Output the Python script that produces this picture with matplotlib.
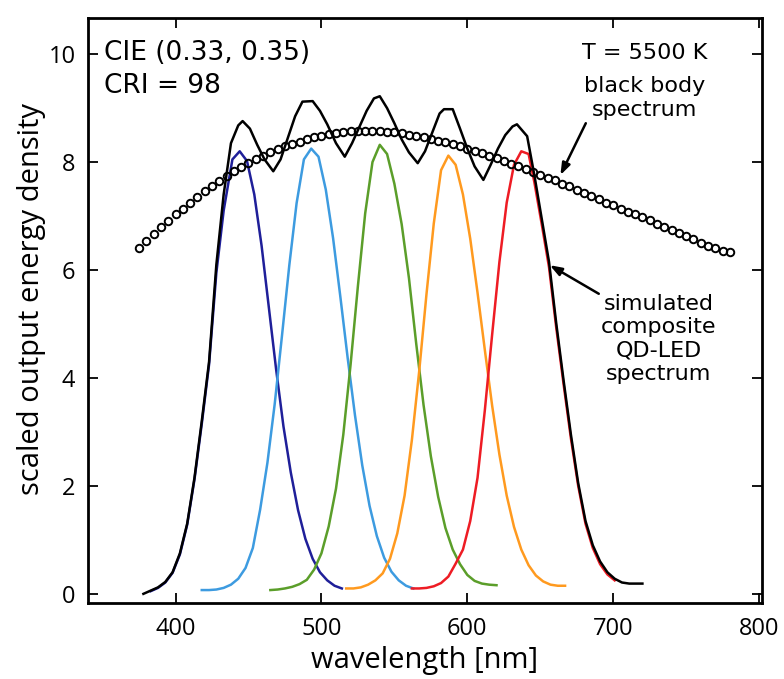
import numpy as np
import matplotlib
matplotlib.use("Agg")
import matplotlib.pyplot as plt

# black body, T = 5500 K (open circles)
bb_wl = np.arange(375, 781, 5)
bb_val = [6.40, 6.53, 6.66, 6.79, 6.91, 7.03, 7.14, 7.25, 7.36, 7.46,
          7.56, 7.65, 7.74, 7.83, 7.91, 7.98, 8.05, 8.12, 8.18, 8.24,
          8.29, 8.34, 8.38, 8.42, 8.46, 8.49, 8.52, 8.54, 8.56, 8.57,
          8.58, 8.58, 8.58, 8.57, 8.56, 8.55, 8.53, 8.51, 8.49, 8.46,
          8.43, 8.40, 8.37, 8.33, 8.29, 8.25, 8.21, 8.16, 8.12, 8.07,
          8.02, 7.97, 7.92, 7.87, 7.82, 7.77, 7.71, 7.66, 7.60, 7.55,
          7.49, 7.43, 7.37, 7.31, 7.25, 7.20, 7.14, 7.08, 7.03, 6.98,
          6.92, 6.86, 6.80, 6.75, 6.69, 6.63, 6.57, 6.51, 6.45, 6.40,
          6.36, 6.33]

# single QD-LED emission bands
blue_wl = [383, 388, 393, 398, 403, 408, 413, 418, 423, 428, 433, 439, 444,
           449, 454, 459, 464, 469, 474, 479, 484, 489, 494, 499, 504, 509, 514]
blue_val = [0.05, 0.11, 0.21, 0.39, 0.73, 1.28, 2.12, 3.15, 4.25, 5.95, 7.10,
            8.05, 8.20, 8.02, 7.40, 6.45, 5.30, 4.15, 3.10, 2.25, 1.55, 1.02,
            0.65, 0.40, 0.25, 0.15, 0.10]

cyan_wl = np.arange(418, 564, 5)
cyan_val = [0.07, 0.07, 0.08, 0.11, 0.17, 0.28, 0.48, 0.85, 1.56, 2.43,
            3.52, 4.79, 6.09, 7.24, 8.05, 8.25, 8.10, 7.49, 6.59, 5.50,
            4.37, 3.31, 2.38, 1.63, 1.07, 0.67, 0.41, 0.25, 0.15, 0.10]

green_wl = np.arange(465, 621, 5)
green_val = [0.07, 0.08, 0.10, 0.13, 0.18, 0.26, 0.45, 0.75, 1.25, 1.95,
             2.95, 4.25, 5.70, 7.05, 8.00, 8.32, 8.15, 7.60, 6.85, 5.85,
             4.63, 3.50, 2.55, 1.80, 1.22, 0.82, 0.55, 0.35, 0.24, 0.19,
             0.17, 0.16]

orange_wl = np.arange(517, 668, 5)
orange_val = [0.10, 0.10, 0.12, 0.17, 0.25, 0.38, 0.65, 1.12, 1.82, 2.85,
              4.12, 5.55, 6.86, 7.85, 8.12, 7.95, 7.40, 6.58, 5.58, 4.52,
              3.49, 2.58, 1.82, 1.24, 0.82, 0.53, 0.34, 0.23, 0.17, 0.15,
              0.15]

red_wl = [562, 567, 572, 577, 582, 587, 592, 597, 602, 607, 612, 617, 622,
          627, 632, 637, 642, 646, 651, 656, 661, 666, 671, 676, 681, 686,
          691, 696, 701]
red_val = [0.10, 0.10, 0.11, 0.14, 0.20, 0.32, 0.56, 0.82, 1.35, 2.15, 3.40,
           4.80, 6.15, 7.25, 7.95, 8.20, 8.15, 7.62, 6.85, 6.05, 4.92, 3.88,
           2.88, 2.00, 1.30, 0.85, 0.55, 0.36, 0.25]

# composite spectrum
comp_wl = [378, 383, 388, 393, 398, 403, 408, 413, 418, 423, 428, 433, 438,
           443, 446, 451, 456, 461, 467, 472, 477, 482, 487, 494, 499, 504,
           510, 516, 521, 526, 531, 536, 540, 545, 550, 555, 560, 566, 571,
           576, 581, 584, 590, 595, 600, 605, 611, 616, 621, 626, 631, 634,
           641, 646, 651, 656, 661, 666, 671, 676, 681, 686, 691, 696, 701,
           706, 711, 716, 720]
comp_val = [0.00, 0.06, 0.12, 0.22, 0.40, 0.75, 1.30, 2.15, 3.20, 4.30, 6.10,
            7.40, 8.35, 8.68, 8.76, 8.62, 8.32, 8.05, 7.83, 8.05, 8.45, 8.85,
            9.12, 9.13, 8.95, 8.70, 8.35, 8.10, 8.35, 8.65, 8.95, 9.18, 9.22,
            9.00, 8.72, 8.42, 8.18, 7.98, 8.20, 8.55, 8.90, 8.98, 8.98, 8.62,
            8.25, 7.92, 7.67, 7.95, 8.25, 8.50, 8.66, 8.70, 8.48, 7.75, 6.95,
            6.15, 5.00, 3.95, 2.95, 2.05, 1.35, 0.90, 0.60, 0.40, 0.28, 0.21,
            0.19, 0.19, 0.19]

band_colors = ["#1f1f99", "#3d9be0", "#5b9e2a", "#ff9a1f", "#ee1c24"]

fig = plt.figure(figsize=(7.84, 6.79), dpi=100)
ax = fig.add_axes([0.1122, 0.1119, 0.8598, 0.8616])

bands = [(blue_wl, blue_val), (cyan_wl, cyan_val), (green_wl, green_val),
         (orange_wl, orange_val), (red_wl, red_val)]
for (wl, val), c in zip(bands, band_colors):
    ax.plot(wl, val, color=c, lw=1.8)

ax.plot(comp_wl, comp_val, color="black", lw=1.8)
ax.plot(bb_wl, bb_val, "o", mfc="none", mec="black", ms=5.4, mew=1.4)

ax.set_xlim(340, 802)
ax.set_ylim(-0.17, 10.67)
ax.set_xticks([400, 500, 600, 700, 800])
ax.set_yticks([0, 2, 4, 6, 8, 10])

tick_font = {"family": "Open Sans", "size": 17}
ax.set_xticklabels(["400", "500", "600", "700", "800"], fontdict=tick_font)
ax.set_yticklabels(["0", "2", "4", "6", "8", "10"], fontdict=tick_font)
ax.tick_params(axis="both", direction="in", top=True, right=True,
               length=7, width=1.3)
ax.tick_params(axis="x", pad=10)
ax.tick_params(axis="y", pad=9)
for s in ax.spines.values():
    s.set_linewidth(2.0)

ax.set_xlabel("wavelength [nm]", family="Open Sans", size=21, labelpad=4)
ax.set_ylabel("scaled output energy density", family="Open Sans", size=21)
ax.yaxis.set_label_coords(-0.062, 0.52)

ax.text(351, 9.72, "CIE (0.33, 0.35)\nCRI = 98", ha="left", va="center",
        fontsize=19, linespacing=1.35)
ax.text(721.6, 10.02, "T = 5500 K", ha="center", va="center", fontsize=16)
ax.text(721.6, 9.19, "black body\nspectrum", ha="center", va="center",
        fontsize=16, linespacing=1.25)
ax.text(731, 4.72, "simulated\ncomposite\nQD-LED\nspectrum", ha="center",
        va="center", fontsize=16, linespacing=1.22)

arrow = dict(arrowstyle="-|>,head_length=0.7,head_width=0.25", color="black",
             lw=1.8, shrinkA=0, shrinkB=0)
ax.annotate("", xy=(663.8, 7.76), xytext=(681.2, 8.72), arrowprops=arrow)
ax.annotate("", xy=(656.5, 6.09), xytext=(690.1, 5.56), arrowprops=arrow)

fig.savefig("out.png", dpi=100)
